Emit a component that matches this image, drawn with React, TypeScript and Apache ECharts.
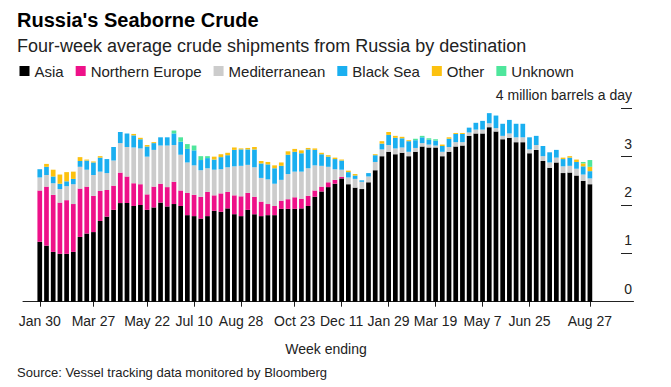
import React, { useEffect, useRef } from "react";
import * as echarts from "echarts";

const categories = [
  "Jan 30", "Feb 6", "Feb 13", "Feb 20", "Feb 27", "Mar 6", "Mar 13", "Mar 20", "Mar 27", "Apr 3",
  "Apr 10", "Apr 17", "Apr 24", "May 1", "May 8", "May 15", "May 22", "May 29", "Jun 5", "Jun 12",
  "Jun 19", "Jun 26", "Jul 3", "Jul 10", "Jul 17", "Jul 24", "Jul 31", "Aug 7", "Aug 14", "Aug 21",
  "Aug 28", "Sep 4", "Sep 11", "Sep 18", "Sep 25", "Oct 2", "Oct 9", "Oct 16", "Oct 23", "Oct 30",
  "Nov 6", "Nov 13", "Nov 20", "Nov 27", "Dec 4", "Dec 11", "Dec 18", "Dec 25", "Jan 1", "Jan 8",
  "Jan 15", "Jan 22", "Jan 29", "Feb 5", "Feb 12", "Feb 19", "Feb 26", "Mar 5", "Mar 12", "Mar 19",
  "Mar 26", "Apr 2", "Apr 9", "Apr 16", "Apr 23", "Apr 30", "May 7", "May 14", "May 21", "May 28",
  "Jun 4", "Jun 11", "Jun 18", "Jun 25", "Jul 2", "Jul 9", "Jul 16", "Jul 23", "Jul 30", "Aug 6",
  "Aug 13", "Aug 20", "Aug 27",
];

const tickLabels = [
  "Jan 30", "Mar 27", "May 22", "Jul 10", "Aug 28", "Oct 23",
  "Dec 11", "Jan 29", "Mar 19", "May 7", "Jun 25", "Aug 27",
];

const yTickLabels = ["0", "1", "2", "3", "4 million barrels a day"];

const asia = [
  1.24, 1.16, 1.03, 0.99, 0.99, 1.03, 1.34, 1.41, 1.44, 1.67,
  1.76, 1.90, 2.04, 2.04, 1.98, 2.00, 1.90, 1.95, 2.05, 1.97,
  2.02, 1.98, 1.79, 1.77, 1.72, 1.77, 1.88, 1.86, 1.93, 1.81,
  1.77, 1.90, 1.81, 1.77, 1.79, 1.79, 1.92, 1.92, 1.92, 1.93,
  1.98, 2.17, 2.28, 2.37, 2.44, 2.55, 2.43, 2.36, 2.33, 2.47,
  2.72, 3.01, 3.10, 3.05, 3.08, 3.01, 3.10, 3.21, 3.19, 3.19,
  3.01, 3.10, 3.21, 3.23, 3.43, 3.48, 3.48, 3.61, 3.52, 3.36,
  3.39, 3.30, 3.30, 3.07, 3.14, 2.91, 2.77, 2.88, 2.66, 2.67,
  2.61, 2.50, 2.43,
];

const northernEurope = [
  1.06, 1.22, 1.18, 1.06, 1.11, 0.99, 1.00, 0.97, 0.75, 0.62,
  0.55, 0.50, 0.63, 0.55, 0.47, 0.43, 0.32, 0.43, 0.39, 0.40,
  0.46, 0.32, 0.46, 0.44, 0.45, 0.50, 0.32, 0.38, 0.34, 0.39,
  0.41, 0.35, 0.36, 0.30, 0.23, 0.19, 0.17, 0.20, 0.24, 0.20,
  0.21, 0.13, 0.10, 0.10, 0.08, 0.03, 0, 0, 0, 0,
  0, 0, 0, 0, 0, 0, 0, 0, 0, 0,
  0, 0, 0, 0, 0, 0, 0, 0, 0, 0,
  0, 0, 0, 0, 0, 0, 0, 0, 0, 0,
  0, 0, 0,
];

const mediterranean = [
  0.27, 0.24, 0.24, 0.28, 0.29, 0.41, 0.45, 0.35, 0.43, 0.40,
  0.35, 0.52, 0.61, 0.61, 0.74, 0.74, 0.78, 0.76, 0.79, 0.86,
  0.76, 0.74, 0.63, 0.61, 0.55, 0.49, 0.53, 0.50, 0.51, 0.60,
  0.63, 0.58, 0.61, 0.49, 0.51, 0.46, 0.43, 0.52, 0.53, 0.56,
  0.57, 0.52, 0.43, 0.32, 0.22, 0.15, 0.14, 0.18, 0.15, 0.12,
  0.17, 0.14, 0.14, 0.12, 0.11, 0.09, 0.08, 0.07, 0.06, 0.04,
  0.09, 0.10, 0.09, 0.07, 0.07, 0.08, 0.08, 0.08, 0.07, 0.07,
  0.09, 0.10, 0.10, 0.08, 0.10, 0.10, 0.11, 0.10, 0.14, 0.14,
  0.14, 0.13, 0.12,
];

const blackSea = [
  0.17, 0.17, 0.14, 0.11, 0.10, 0.11, 0.12, 0.19, 0.26, 0.29,
  0.29, 0.28, 0.23, 0.28, 0.25, 0.19, 0.21, 0.14, 0.17, 0.17,
  0.24, 0.27, 0.28, 0.31, 0.21, 0.21, 0.21, 0.25, 0.25, 0.34,
  0.34, 0.32, 0.37, 0.30, 0.31, 0.32, 0.29, 0.40, 0.41, 0.38,
  0.39, 0.32, 0.24, 0.21, 0.21, 0.19, 0.11, 0.07, 0.03, 0.07,
  0.14, 0.12, 0.21, 0.22, 0.19, 0.22, 0.16, 0.12, 0.10, 0.10,
  0.12, 0.17, 0.17, 0.17, 0.10, 0.14, 0.18, 0.21, 0.26, 0.25,
  0.28, 0.28, 0.28, 0.25, 0.19, 0.21, 0.21, 0.16, 0.15, 0.17,
  0.14, 0.17, 0.15,
];

const other = [
  0, 0.06, 0.14, 0.19, 0.19, 0.15, 0.08, 0.02, 0.02, 0.03,
  0, 0, 0, 0, 0.03, 0.03, 0.03, 0.02, 0, 0,
  0, 0, 0, 0, 0, 0, 0.06, 0.06, 0.05, 0.05,
  0.02, 0.03, 0.05, 0.05, 0.05, 0.06, 0.07, 0.07, 0.06, 0.06,
  0.03, 0.03, 0.03, 0.03, 0.03, 0.02, 0.03, 0.03, 0, 0,
  0.02, 0.05, 0.06, 0.04, 0.03, 0.02, 0, 0, 0, 0,
  0.03, 0.03, 0.02, 0.02, 0, 0, 0, 0, 0, 0,
  0, 0, 0, 0, 0, 0, 0, 0, 0.03, 0.03,
  0.05, 0.06, 0.09,
];

const unknown = [
  0, 0, 0, 0, 0, 0, 0, 0, 0, 0,
  0, 0, 0, 0, 0, 0, 0, 0, 0, 0,
  0.06, 0.09, 0.10, 0.10, 0.08, 0.04, 0, 0, 0, 0,
  0, 0, 0, 0, 0, 0, 0, 0, 0, 0,
  0, 0, 0, 0, 0, 0, 0, 0, 0, 0,
  0, 0, 0, 0, 0, 0, 0.03, 0.03, 0.03, 0.03,
  0, 0, 0, 0, 0, 0, 0, 0, 0, 0,
  0, 0, 0, 0, 0, 0, 0, 0, 0, 0,
  0, 0.03, 0.14,
];

const seriesDefs = [
  { name: "Asia", data: asia, color: "#000000" },
  { name: "Northern Europe", data: northernEurope, color: "#ee1189" },
  { name: "Mediterranean", data: mediterranean, color: "#cccccc" },
  { name: "Black Sea", data: blackSea, color: "#1aaff0" },
  { name: "Other", data: other, color: "#fcc10f" },
  { name: "Unknown", data: unknown, color: "#4ee69c" },
];

const FONT = "'Liberation Sans', Arial, sans-serif";
const PAD_BEFORE = 2;
const PAD_AFTER = 6;

export default function App() {
  const ref = useRef<HTMLDivElement>(null);

  useEffect(() => {
    if (!ref.current) return;
    const chart = echarts.init(ref.current, null, { renderer: "svg" });
    const before = new Array(PAD_BEFORE).fill("");
    const after = new Array(PAD_AFTER).fill("");
    const cats = [...before, ...categories, ...after];
    const pad = (arr: number[]) => [
      ...new Array(PAD_BEFORE).fill(null),
      ...arr,
      ...new Array(PAD_AFTER).fill(null),
    ];
    const showTick = (_i: number, v: string) => tickLabels.indexOf(v) >= 0;

    chart.setOption({
      animation: false,
      backgroundColor: "#ffffff",
      textStyle: { fontFamily: FONT },
      title: [
        {
          text: "Russia's Seaborne Crude",
          left: 17,
          top: 10,
          padding: 0,
          textStyle: { fontSize: 20, fontWeight: "bold", color: "#000", lineHeight: 20, fontFamily: FONT },
        },
        {
          text: "Four-week average crude shipments from Russia by destination",
          left: 17,
          top: 37,
          padding: 0,
          textStyle: { fontSize: 18, fontWeight: "normal", color: "#222", lineHeight: 18, fontFamily: FONT },
        },
      ],
      legend: {
        left: 19.5,
        top: 63,
        padding: 0,
        itemWidth: 10,
        itemHeight: 10,
        itemGap: 12,
        icon: "rect",
        selectedMode: false,
        data: seriesDefs.map((s) => s.name),
        textStyle: { fontSize: 15, color: "#222", lineHeight: 16, fontFamily: FONT },
      },
      grid: { left: 23, right: 37.5, top: 108.3, bottom: 85.3, containLabel: false },
      xAxis: {
        type: "category",
        data: cats,
        boundaryGap: true,
        axisLine: { show: true, lineStyle: { color: "#222", width: 1 } },
        axisTick: { show: true, alignWithLabel: true, length: 5, interval: showTick, lineStyle: { color: "#222" } },
        axisLabel: { interval: showTick, margin: 12, fontSize: 14, color: "#222", fontFamily: FONT },
        splitLine: { show: false },
      },
      yAxis: {
        type: "value",
        position: "right",
        offset: -1.5,
        min: 0,
        max: 4,
        interval: 1,
        axisLine: { show: false },
        axisTick: { show: true, inside: true, length: 11, lineStyle: { color: "#222" } },
        splitLine: { show: false },
        axisLabel: {
          inside: true,
          margin: 0,
          align: "right",
          verticalAlign: "bottom",
          lineHeight: 14,
          padding: [0, 0, 6, 0],
          fontSize: 14,
          color: "#222",
          fontFamily: FONT,
          formatter: (v: number) => yTickLabels[Math.round(v)] ?? String(v),
        },
      },
      series: seriesDefs.map((s) => ({
        name: s.name,
        type: "bar",
        stack: "total",
        barWidth: 4.7,
        data: pad(s.data),
        itemStyle: { color: s.color },
        emphasis: { disabled: true },
      })),
      graphic: [
        {
          type: "text",
          x: 326,
          y: 349,
          style: { text: "Week ending", fontSize: 14, fill: "#222", textAlign: "center", textVerticalAlign: "middle", fontFamily: FONT },
        },
        {
          type: "text",
          x: 17,
          y: 372,
          style: { text: "Source: Vessel tracking data monitored by Bloomberg", fontSize: 13, fill: "#222", textAlign: "left", textVerticalAlign: "middle", fontFamily: FONT },
        },
      ],
    });
    return () => chart.dispose();
  }, []);

  return <div ref={ref} style={{ position: "absolute", left: 0, top: 0, width: 671, height: 387 }} />;
}
